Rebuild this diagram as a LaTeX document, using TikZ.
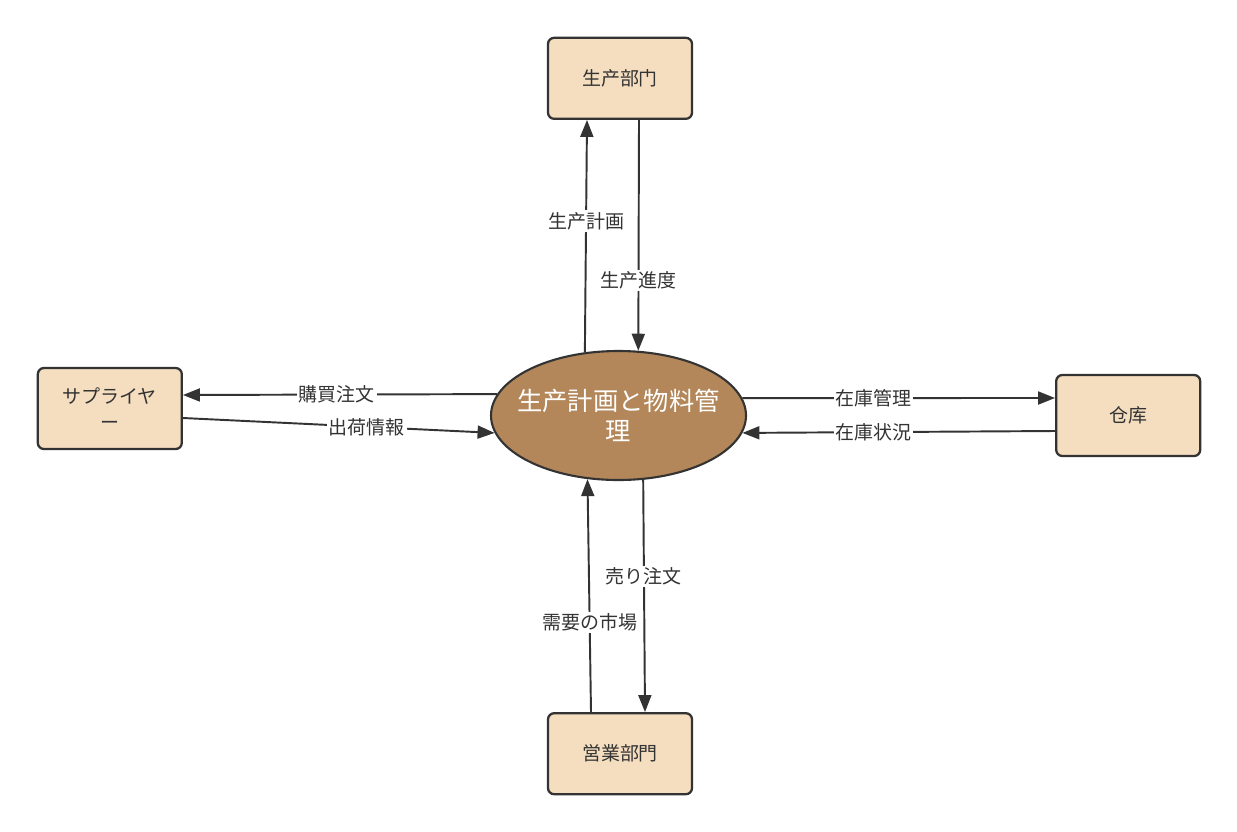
\documentclass[tikz,border=0pt]{standalone}
\usepackage{fontspec}
\usepackage{tikz}
\usepackage{xcolor}
\usetikzlibrary{positioning,arrows.meta,shapes.geometric}

\newfontfamily\jpfont{Noto Sans CJK JP}
\definecolor{deptfill}{HTML}{F5DEC0}
\definecolor{corefill}{HTML}{B3875A}
\definecolor{edgecol}{HTML}{333333}

\begin{document}
\begin{tikzpicture}[
        font=\jpfont\fontsize{10.8}{15}\selectfont,
        dept/.style={draw=edgecol, line width=1.3pt, fill=deptfill, rounded corners=3.5pt,
            minimum width=2.88cm, minimum height=1.62cm, align=center, text=edgecol},
        core/.style={ellipse, draw=edgecol, line width=1.2pt, fill=corefill,
            minimum width=5.1cm, minimum height=2.58cm, inner sep=0pt},
        corelabel/.style={text=white, align=center, font=\jpfont\fontsize{14.4}{17}\selectfont},
        flow/.style={draw=edgecol, line width=1.1pt, -{Triangle[length=0.34cm, width=0.26cm]}},
        flowlabel/.style={fill=white, inner sep=1pt, text=edgecol}
    ]
        \useasboundingbox (0,0) rectangle (24.74,-16.62);

        % Nodes
        \node[core, label={[corelabel]center:{生产計画と物料管\\理}}] (core) at (12.37,-8.31) {};
        \node[dept] (prod) [above=4.6cm of core, xshift=0.03cm] {生产部门};
        \node[dept] (sales) [below=4.62cm of core, xshift=0.03cm] {営業部門};
        \node[dept] (supplier) [left=6.14cm of core, yshift=0.14cm] {サプライヤ\\ー};
        \node[dept] (store) [right=6.16cm of core] {仓库};

        % Arrows
        \draw[flow] (core.118.3) -- node[flowlabel, pos=0.565] {生产計画} ([xshift=-0.66cm]prod.south);
        \draw[flow] ([xshift=0.38cm]prod.south) -- node[flowlabel, pos=0.694] {生产進度} (core.73.8);
        \draw[flow] (core.170.4) -- node[flowlabel, pos=0.51] {購買注文} ([yshift=0.27cm]supplier.east);
        \draw[flow] ([yshift=-0.19cm]supplier.east) -- node[flowlabel, pos=0.59] {出荷情報} (core.188.6);
        \draw[flow] (core.8.1) -- node[flowlabel, pos=0.42] {在庫管理} ([yshift=0.35cm]store.west);
        \draw[flow] ([yshift=-0.31cm]store.west) -- node[flowlabel, pos=0.58] {在庫状況} (core.352.9);
        \draw[flow] ([xshift=-0.58cm]sales.north) -- node[flowlabel, pos=0.386] {需要の市場} (core.244.8);
        \draw[flow] (core.291.2) -- node[flowlabel, pos=0.416] {売り注文} ([xshift=0.5cm]sales.north);
\end{tikzpicture}
\end{document}
